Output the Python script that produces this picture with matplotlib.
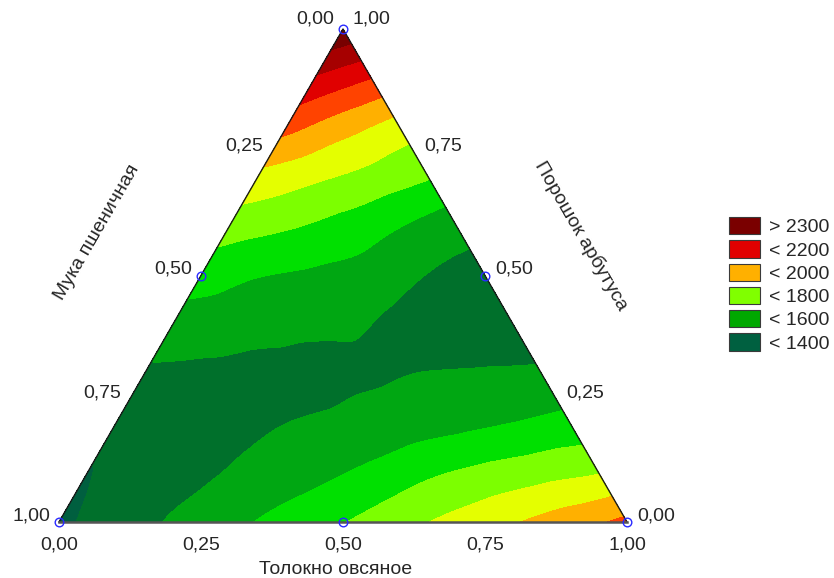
import numpy as np
import matplotlib
matplotlib.use("Agg")
import matplotlib.pyplot as plt
import matplotlib.tri as mtri
from matplotlib.patches import Patch

plt.rcParams['font.family'] = ['Liberation Sans', 'DejaVu Sans']

# ---------------- data ----------------
# grid of mixture points: arbutus share (top vertex) per row, oat share (right vertex) step
arbutus_rows = [0.0, 0.1, 0.2, 0.3, 0.4, 0.5, 0.6, 0.7, 0.8, 0.9, 1.0]
oat_step = 0.1
# estimated response at each grid node, row by row (oat = 0, 0.1, ... , 1 - arbutus)
resp_c00 = [1380, 1445, 1511, 1574, 1635, 1696, 1766, 1830, 1893, 1957, 2025]
resp_c01 = [1395, 1441, 1484, 1528, 1572, 1622, 1683, 1727, 1764, 1795]
resp_c02 = [1438, 1459, 1479, 1500, 1525, 1550, 1575, 1602, 1636]
resp_c03 = [1486, 1483, 1475, 1468, 1490, 1503, 1510, 1519]
resp_c04 = [1556, 1544, 1529, 1517, 1480, 1455, 1445]
resp_c05 = [1643, 1604, 1584, 1559, 1497, 1474]
resp_c06 = [1747, 1711, 1665, 1603, 1538]
resp_c07 = [1872, 1819, 1766, 1708]
resp_c08 = [2029, 1939, 1854]
resp_c09 = [2189, 2100]
resp_c10 = [2385]
response_rows = [resp_c00, resp_c01, resp_c02, resp_c03, resp_c04, resp_c05,
                 resp_c06, resp_c07, resp_c08, resp_c09, resp_c10]

levels = [0, 1400, 1500, 1600, 1700, 1800, 1900, 2000, 2100, 2200, 2300, 5000]
band_colors = ['#005f3f', '#00702b', '#00a712', '#00e000', '#7cff00', '#e4ff00',
               '#ffb000', '#ff4300', '#e00000', '#a60000', '#780000']

legend_labels = ['> 2300', '< 2200', '< 2000', '< 1800', '< 1600', '< 1400']
legend_colors = ['#7a0000', '#e00000', '#ffb000', '#80ff00', '#00a800', '#006040']

tick_values = [0.0, 0.25, 0.5, 0.75, 1.0]
tick_labels = ['0,00', '0,25', '0,50', '0,75', '1,00']

title_flour = 'Мука пшеничная'
title_oat = 'Толокно овсяное'
title_arbutus = 'Порошок арбутуса'

# ---------------- geometry ----------------
H = np.sqrt(3) / 2


def to_xy(oat, arb):
    return oat + arb / 2.0, arb * H


xs, ys, zs = [], [], []
for c, row in zip(arbutus_rows, response_rows):
    for j, v in enumerate(row):
        x, y = to_xy(j * oat_step, c)
        xs.append(x)
        ys.append(y)
        zs.append(v)
xs, ys, zs = np.array(xs), np.array(ys), np.array(zs, dtype=float)

W, Hpx = 834, 578
fig = plt.figure(figsize=(W / 100, Hpx / 100), dpi=100)
# triangle spans pixels x 59..627, y 29..522
ax = fig.add_axes([59 / W, (Hpx - 522) / Hpx, 568 / W, 493 / Hpx])
ax.set_xlim(0, 1)
ax.set_ylim(0, H)
ax.axis('off')

tri = mtri.Triangulation(xs, ys)
interp = mtri.CubicTriInterpolator(tri, zs, kind='geom')
refiner = mtri.UniformTriRefiner(tri)
tri_r, z_r = refiner.refine_field(zs, interp, subdiv=4)
ax.tricontourf(tri_r, z_r, levels=levels, colors=band_colors)

# triangle outline
ax.plot([0, 0.5, 1], [0, H, 0], color='#1a1a1a', lw=1.0, clip_on=False, zorder=5)
ax.plot([0, 1], [0, 0], color='#555555', lw=1.8, clip_on=False, zorder=5)

# marker circles at vertices and edge midpoints
mk = [to_xy(0, 0), to_xy(1, 0), to_xy(0, 1), to_xy(0.5, 0), to_xy(0, 0.5), to_xy(0.5, 0.5)]
ax.plot([p[0] for p in mk], [p[1] for p in mk], 'o', mfc='none', mec='#2a2aff',
        ms=6.2, mew=1.0, clip_on=False, zorder=6)

px = 72 / 100.0  # points per pixel
tcol = '#262626'
fs = 14
# left axis: flour share (1 at bottom-left)
for v, lab in zip(tick_values, tick_labels):
    x, y = to_xy(0, 1 - v)
    dy = 10 if v == 0 else 6
    ax.annotate(lab, (x, y), xytext=(-9 * px, dy * px), textcoords='offset points',
                ha='right', va='center', fontsize=fs, color=tcol, annotation_clip=False)
# right axis: arbutus share (1 at top)
for v, lab in zip(tick_values, tick_labels):
    x, y = to_xy(1 - v, v)
    dy = 10 if v == 1 else 6
    ax.annotate(lab, (x, y), xytext=(10 * px, dy * px), textcoords='offset points',
                ha='left', va='center', fontsize=fs, color=tcol, annotation_clip=False)
# bottom axis: oat share
for v, lab in zip(tick_values, tick_labels):
    x, y = to_xy(v, 0)
    ax.annotate(lab, (x, y), xytext=(0, -23 * px), textcoords='offset points',
                ha='center', va='center', fontsize=fs, color=tcol, annotation_clip=False)

fig.text(97 / W, 1 - 232 / Hpx, title_flour, rotation=60, ha='center', va='center',
         fontsize=fs, color=tcol, rotation_mode='anchor')
fig.text(581 / W, 1 - 236 / Hpx, title_arbutus, rotation=-60, ha='center', va='center',
         fontsize=fs, color=tcol, rotation_mode='anchor')
fig.text(336 / W, 1 - 570 / Hpx, title_oat, ha='center', va='center',
         fontsize=fs, color=tcol)

handles = [Patch(facecolor=c, edgecolor='#3a3a3a', linewidth=0.8) for c in legend_colors]
fig.legend(handles, legend_labels, loc='upper left',
           bbox_to_anchor=(729 / W, 1 - 217 / Hpx), frameon=False, fontsize=fs,
           handlelength=1.6, handleheight=1.0, labelspacing=0.2, handletextpad=0.45,
           borderpad=0, borderaxespad=0, labelcolor=tcol)

fig.savefig('out.png', dpi=100)
